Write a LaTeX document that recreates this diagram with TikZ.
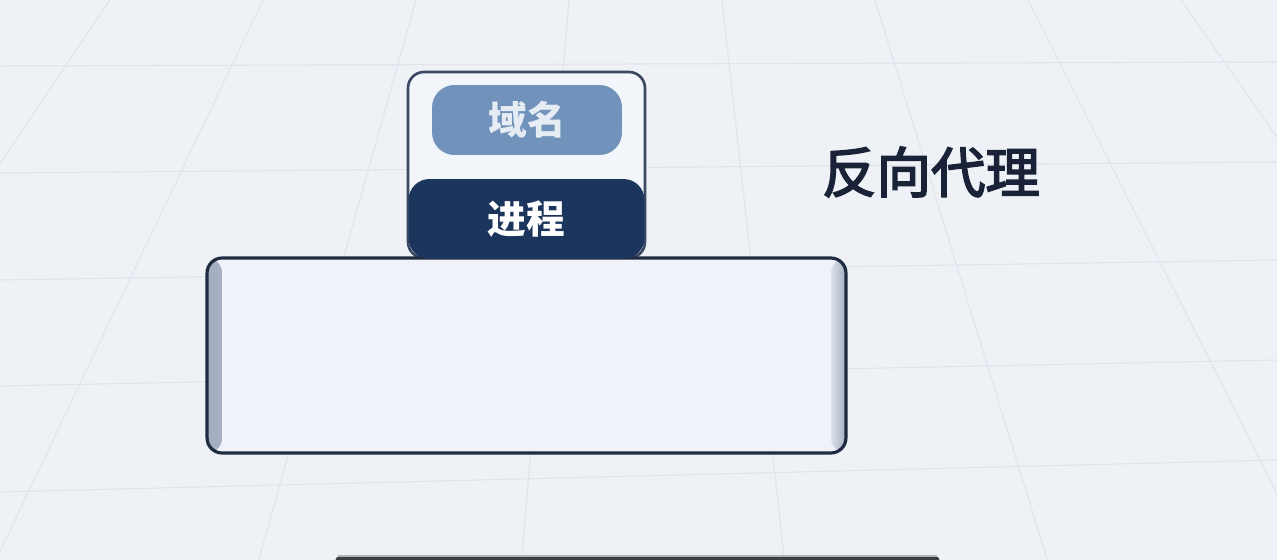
\documentclass[tikz,border=0pt]{standalone}
\usepackage{fontspec}
\newfontfamily\cjk{Noto Sans CJK SC}
\newfontfamily\cjkmed{Noto Sans CJK SC}[FakeBold=3]
\usetikzlibrary{calc,positioning}

\definecolor{bgcol}{HTML}{EEF1F6}
\definecolor{gridcol}{HTML}{E0E4EB}
\definecolor{navy}{HTML}{1C355C}
\definecolor{pillcol}{HTML}{7092BB}
\definecolor{pilltext}{HTML}{E6ECF4}
\definecolor{cardline}{HTML}{3A4862}
\definecolor{cardfill}{HTML}{F2F5F9}
\definecolor{boxline}{HTML}{1F2B40}
\definecolor{boxfill}{HTML}{EFF3F9}
\definecolor{bandcol}{HTML}{A4AEC0}
\definecolor{titlecol}{HTML}{1A2238}
\definecolor{barcol}{HTML}{3B3F47}

\tikzset{
  gridline/.style={draw=gridcol, line width=0.6pt},
  cardbox/.style={draw=cardline, line width=1.5pt, fill=cardfill, rounded corners=0.32cm,
    minimum width=4.74cm, minimum height=3.72cm, inner sep=0pt},
  pillbox/.style={fill=pillcol, text=pilltext, rounded corners=0.45cm,
    minimum width=3.8cm, minimum height=1.4cm, inner sep=0pt,
    font=\cjk\bfseries\fontsize{22}{26}\selectfont},
  procbox/.style={fill=navy, text=white, rounded corners=0.42cm,
    minimum width=4.72cm, minimum height=1.6cm, inner sep=0pt,
    font=\cjk\bfseries\fontsize{22}{26}\selectfont},
  proxybox/.style={draw=boxline, line width=1.8pt, fill=boxfill, rounded corners=0.3cm,
    minimum width=12.78cm, minimum height=3.9cm, inner sep=0pt,
    path picture={
      \shade[left color=bandcol, right color=bandcol!25!boxfill]
        (path picture bounding box.south west) rectangle ([xshift=0.3cm]path picture bounding box.north west);
      \shade[right color=bandcol, left color=bandcol!25!boxfill]
        (path picture bounding box.south east) rectangle ([xshift=-0.3cm]path picture bounding box.north east);
    }},
  titletext/.style={text=titlecol, font=\cjkmed\fontsize{31}{35}\selectfont}
}

\begin{document}
\begin{tikzpicture}[x=0.02cm, y=-0.02cm]
  % page and background
  \useasboundingbox (0,0) rectangle (1277,560);
  \clip (0,0) rectangle (1277,560);
  \fill[bgcol] (0,0) rectangle (1277,560);

  % faint floor grid in perspective
  \foreach \yl/\yr in {66/62, 173/162, 280/260, 386/360, 492/460}
    \draw[gridline] (0,\yl) -- (1277,\yr);
  \foreach \xt in {-43, 110, 263, 416, 569, 722, 875, 1028, 1181, 1334}{
    \pgfmathsetmacro{\xb}{635 + (\xt-635)*1.718}
    \draw[gridline] (\xt,0) -- (\xb,560);
  }

  % top card with domain and process
  \node[cardbox] (card) at (526.5,165) {};
  \node[pillbox] (domain) at (527,120) {域名};

  % reverse proxy box
  \node[proxybox] (proxy) at (526.5,355.5) {};
  \node[procbox] (proc) at (526.5,219) {进程};

  % label on the right
  \node[titletext] (title) at (931,172) {反向代理};

  % dark bar at the bottom edge
  \fill[barcol, rounded corners=3pt] (335,556) rectangle (940,580);
  \draw[gray!60, line width=0.6pt] (338,556) -- (937,556);
\end{tikzpicture}
\end{document}
